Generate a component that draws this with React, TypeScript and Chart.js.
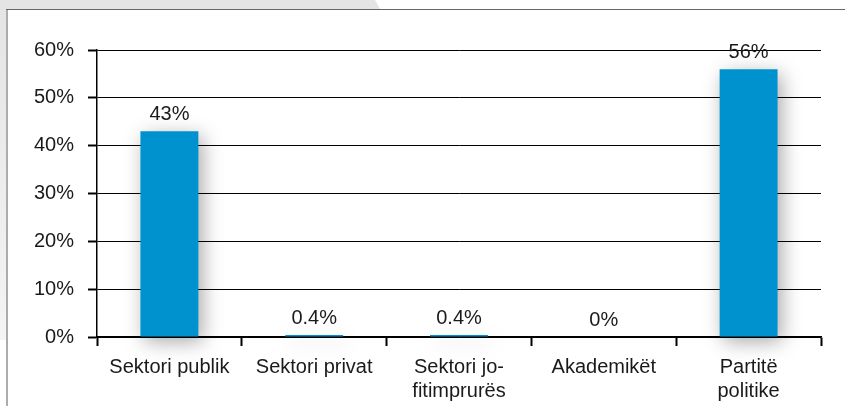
import React, { useEffect, useRef } from "react";
import { Chart, registerables } from "chart.js";

Chart.register(...registerables);

const categories: (string | string[])[] = [
  "Sektori publik",
  "Sektori privat",
  ["Sektori jo-", "fitimprurës"],
  "Akademikët",
  ["Partitë", "politike"],
];
const values: number[] = [43, 0.4, 0.4, 0, 56];
const valueLabels: string[] = ["43%", "0.4%", "0.4%", "0%", "56%"];
const yTicks: number[] = [0, 10, 20, 30, 40, 50, 60];

const FONT = "'Liberation Sans', Arial, sans-serif";
const TEXT = "#1a1a1a";
const BAR = "#0092cf";

const framePlugin = {
  id: "frame",
  beforeDraw(chart: any) {
    const ctx = chart.ctx as CanvasRenderingContext2D;
    const w = chart.width;
    const h = chart.height;
    ctx.save();
    ctx.fillStyle = "#ffffff";
    ctx.fillRect(0, 0, w, h);
    ctx.fillStyle = "#e4e4e4";
    ctx.beginPath();
    ctx.moveTo(0, 0);
    ctx.lineTo(375, 0);
    ctx.lineTo(380, 9);
    ctx.lineTo(0, 9);
    ctx.closePath();
    ctx.fill();
    const g = ctx.createLinearGradient(0, 0, 0, 340);
    g.addColorStop(0, "#e4e4e4");
    g.addColorStop(1, "#f4f4f4");
    ctx.fillStyle = g;
    ctx.fillRect(0, 9, 6, 331);
    ctx.fillStyle = "#acacac";
    ctx.fillRect(6, 9, 2, h - 9);
    ctx.fillStyle = "#666666";
    ctx.fillRect(6, 9, w - 6, 1);
    ctx.restore();
  },
};

const shadowPlugin = {
  id: "barShadow",
  beforeDatasetsDraw(chart: any) {
    const ctx = chart.ctx as CanvasRenderingContext2D;
    ctx.save();
    ctx.shadowColor = "rgba(0,0,0,0.35)";
    ctx.shadowBlur = 20;
    ctx.shadowOffsetX = 4;
    ctx.shadowOffsetY = 5;
  },
  afterDatasetsDraw(chart: any) {
    chart.ctx.restore();
  },
};

const labelPlugin = {
  id: "valueLabels",
  afterDatasetsDraw(chart: any) {
    const ctx = chart.ctx as CanvasRenderingContext2D;
    const meta = chart.getDatasetMeta(0);
    ctx.save();
    ctx.font = `20px ${FONT}`;
    ctx.fillStyle = TEXT;
    ctx.textAlign = "center";
    ctx.textBaseline = "alphabetic";
    meta.data.forEach((bar: any, i: number) => {
      ctx.fillText(valueLabels[i], bar.x, bar.y - 11);
    });
    ctx.restore();
  },
};

export default function App() {
  const ref = useRef<HTMLCanvasElement | null>(null);
  useEffect(() => {
    document.body.style.margin = "0";
    if (!ref.current) return;
    const chart = new Chart(ref.current, {
      type: "bar",
      data: {
        labels: categories as any,
        datasets: [
          {
            data: values,
            backgroundColor: BAR,
            borderWidth: 0,
            barPercentage: 0.4,
            categoryPercentage: 1,
            clip: false as any,
          },
        ],
      },
      options: {
        animation: false,
        responsive: true,
        maintainAspectRatio: false,
        layout: { padding: { left: 0, top: 50, right: 24, bottom: 0 } },
        plugins: {
          legend: { display: false },
          tooltip: { enabled: false },
        },
        scales: {
          x: {
            offset: true,
            grid: {
              display: true,
              offset: true,
              drawOnChartArea: false,
              drawTicks: true,
              tickLength: 9,
              tickWidth: 2,
              tickColor: "#000",
            },
            border: { display: true, color: "#000", width: 1.5 },
            ticks: {
              color: TEXT,
              font: { family: FONT, size: 20 },
              padding: 9,
              maxRotation: 0,
              autoSkip: false,
            },
            afterFit: (s: any) => {
              s.height = 69;
            },
          },
          y: {
            min: 0,
            max: 60,
            afterBuildTicks: (s: any) => {
              s.ticks = yTicks.map((v) => ({ value: v }));
            },
            grid: {
              color: "#000",
              lineWidth: 1,
              drawTicks: true,
              tickLength: 9,
              tickWidth: 2,
              tickColor: "#000",
            },
            border: { display: true, color: "#000", width: 1.5 },
            ticks: {
              color: TEXT,
              font: { family: FONT, size: 20 },
              padding: 14,
              callback: (v: any) => `${v}%`,
            },
            afterFit: (s: any) => {
              s.width = 97;
            },
          },
        },
      },
      plugins: [framePlugin, shadowPlugin, labelPlugin],
    });
    return () => chart.destroy();
  }, []);
  return (
    <div style={{ position: "fixed", left: 0, top: 0, width: 845, height: 406 }}>
      <canvas ref={ref} />
    </div>
  );
}
